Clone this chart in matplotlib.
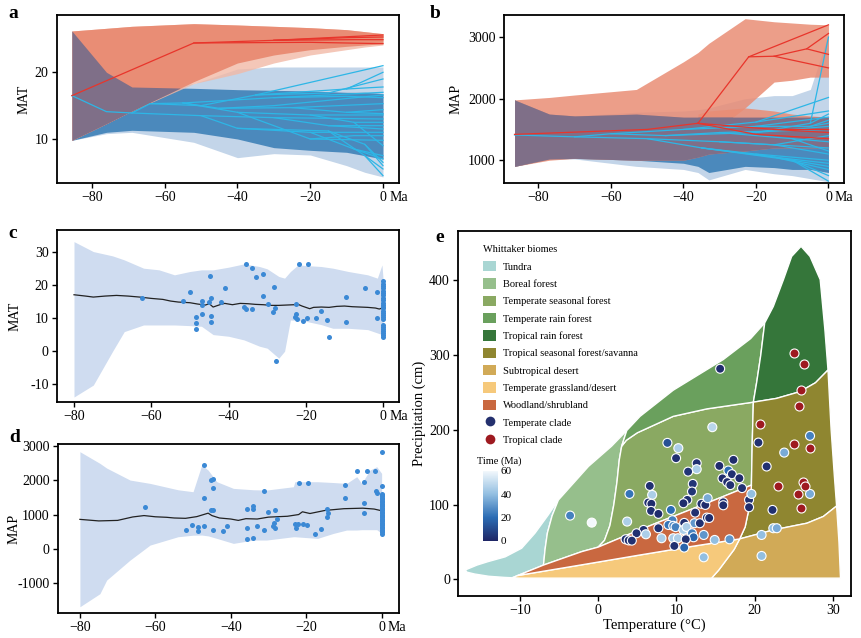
import matplotlib
matplotlib.use('Agg')
import matplotlib.pyplot as plt
import numpy as np
from matplotlib.patches import Polygon, Patch
from matplotlib.lines import Line2D
from matplotlib.colors import LinearSegmentedColormap, Normalize
from matplotlib.cm import ScalarMappable

plt.rcParams['font.family'] = ['Liberation Serif', 'DejaVu Serif']
plt.rcParams['axes.unicode_minus'] = True

# ---------------- panel a : MAT traitgram ----------------
t_a = [-85.5, -76, -69, -52, -40, -30, -20, -10, -5, 0]
a_red_hi = [26.2, 26.6, 26.9, 27.3, 27.1, 26.9, 26.7, 26.4, 26.1, 25.8]
a_red_lo = [9.8, 12.3, 14.2, 18.6, 21.4, 22.6, 23.4, 23.9, 24.1, 24.3]
a_red_lo_light = [9.8, 12.3, 14.2, 18.3, 19.8, 21.4, 22.6, 23.4, 23.8, 24.1]
a_blue_hi = [26.2, 20.0, 17.8, 18.3, 20.5, 20.8, 20.8, 20.8, 20.8, 20.8]
a_blue_lo = [9.8, 10.8, 11.0, 9.5, 7.2, 7.8, 7.6, 6.0, 5.0, 4.3]
a_core_hi = [26.2, 20.0, 17.8, 17.6, 17.4, 17.3, 17.2, 17.0, 17.0, 16.8]
a_core_lo = [9.8, 11.0, 11.3, 11.0, 10.0, 8.7, 8.3, 8.0, 7.5, 7.0]

a_red_paths = [
    [(-85.5, 16.5), (-52, 24.4), (-30, 24.8), (0, 25.6)],
    [(-30, 24.8), (-10, 25.2), (0, 25.3)],
    [(-30, 24.8), (-8, 24.9), (0, 24.9)],
    [(-52, 24.4), (-20, 24.5), (0, 24.3)],
]
a_blue_paths = [
    [(-85.5, 16.5), (-76, 14.1), (-69, 13.9), (-50, 13.5), (-30, 13.2), (0, 13.0)],
    [(-69, 13.9), (-64, 15.3), (-55, 15.4), (-30, 16.2), (0, 17.0)],
    [(-55, 15.4), (-40, 14.0), (-20, 13.6), (0, 13.6)],
    [(-64, 15.3), (-50, 15.0), (-35, 16.6), (0, 21.0)],
    [(-35, 16.6), (-10, 17.5), (0, 20.0)],
    [(-35, 16.6), (-15, 16.9), (0, 19.0)],
    [(-50, 13.5), (-40, 11.6), (-20, 11.0), (0, 11.0)],
    [(-40, 11.6), (-15, 11.2), (-5, 9.2), (0, 6.0)],
    [(-30, 13.2), (-15, 12.0), (0, 12.0)],
    [(-20, 11.0), (-8, 8.5), (0, 7.5)],
    [(-15, 11.2), (-5, 7.5), (0, 4.5)],
    [(-55, 15.4), (-45, 14.6), (-25, 14.7), (0, 15.3)],
    [(-25, 14.7), (-10, 14.0), (0, 14.4)],
    [(-20, 13.6), (-8, 12.5), (0, 12.5)],
    [(-30, 16.2), (-10, 16.4), (0, 16.2)],
    [(-10, 17.5), (0, 17.8)],
    [(-40, 14.0), (-20, 10.0), (0, 9.8)],
    [(-20, 10.0), (-8, 10.5), (0, 10.5)],
    [(-8, 8.5), (0, 7.0)],
    [(-5, 9.2), (0, 6.5)],
    [(-15, 12.0), (0, 11.5)],
    [(-10, 14.0), (0, 13.8)],
    [(-5, 7.5), (0, 5.5)],
    [(-45, 14.6), (-30, 15.0), (0, 16.6)],
    [(-8, 12.5), (0, 9.0)],
]

# ---------------- panel b : MAP traitgram ----------------
t_b = [-86.6, -77, -70, -53, -40, -36, -33, -23, -15, -10, -5, 0]
b_red_hi = [1980, 2020, 2060, 2150, 2600, 2750, 2900, 3300, 3250, 3230, 3210, 3200]
b_red_lo = [900, 1000, 1030, 1000, 1000, 1050, 1400, 1850, 2270, 2300, 2350, 2350]
t_b2 = [-36, -33, -23, -15, -10, -5, 0]
b_red2_hi = [1750, 1800, 1850, 1800, 1750, 1720, 1700]
b_red2_lo = [1050, 1100, 1150, 1200, 1200, 1200, 1200]
b_blue_hi = [1980, 1750, 1720, 1780, 1800, 1820, 1850, 2000, 2050, 2050, 2150, 3050]
b_blue_lo = [900, 1020, 1020, 900, 850, 800, 680, 850, 780, 750, 700, 650]
b_core_hi = [1980, 1750, 1720, 1750, 1700, 1700, 1700, 1700, 1700, 1700, 1700, 1700]
b_core_lo = [900, 1020, 1030, 1000, 950, 900, 800, 900, 880, 850, 850, 800]

b_red_paths = [
    [(-86.6, 1420), (-50, 1500), (-36, 1600), (-22, 2680), (-15, 2690), (-6, 2810), (0, 3060)],
    [(-22, 2680), (0, 3200)],
    [(-15, 2690), (0, 2500)],
    [(-6, 2810), (0, 2720)],
    [(-36, 1600), (-15, 1500), (0, 1500)],
    [(-15, 1500), (0, 1450)],
    [(-36, 1600), (-20, 1420), (0, 1350)],
]
b_blue_paths = [
    [(-86.6, 1410), (-70, 1380), (-50, 1350), (-30, 1300), (0, 1200)],
    [(-70, 1380), (-60, 1430), (-40, 1500), (-20, 1550), (0, 1700)],
    [(-40, 1500), (-20, 1620), (0, 2020)],
    [(-20, 1620), (0, 1800)],
    [(-60, 1430), (-45, 1400), (-30, 1450), (0, 1500)],
    [(-50, 1350), (-35, 1200), (-20, 1100), (0, 1000)],
    [(-35, 1200), (-10, 1000), (0, 750)],
    [(-20, 1100), (0, 900)],
    [(-30, 1300), (-15, 1250), (0, 1400)],
    [(-15, 1250), (0, 1100)],
    [(-45, 1400), (-20, 1450), (-5, 1600), (0, 3000)],
    [(-5, 1600), (0, 1750)],
    [(-10, 1000), (0, 660)],
    [(-20, 1550), (-5, 1550), (0, 1650)],
    [(-30, 1450), (-10, 1350), (0, 1300)],
    [(-10, 1350), (0, 1150)],
    [(-35, 1200), (-15, 1050), (0, 850)],
    [(-15, 1050), (0, 950)],
    [(-20, 1450), (0, 1550)],
    [(-5, 1550), (0, 1600)],
]

# ---------------- panel c : MAT through time ----------------
c_mean_t = [-80, -77, -75, -72, -69, -66, -63, -60, -57, -55, -53, -50, -48, -46, -45, -44, -42, -41, -39, -37,
            -35, -33, -31, -29, -27, -25, -23, -22, -21, -19, -18, -16, -14, -12, -10, -8, -6, -4, -2, -1, 0]
c_mean = [17.0, 16.6, 16.3, 16.6, 16.8, 16.6, 16.3, 15.9, 15.6, 15.1, 14.8, 14.6, 14.2, 13.9, 14.3, 13.3, 14.1,
          14.4, 14.0, 14.4, 14.3, 14.1, 14.0, 13.8, 13.8, 13.9, 14.0, 14.1, 13.6, 12.8, 13.2, 13.3, 13.2, 13.5,
          13.6, 13.4, 13.3, 13.2, 13.0, 12.7, 13.1]
c_band_t = [-80, -75, -70, -67, -62, -58, -54, -50, -47, -44, -40, -36, -32, -30, -27, -25.5, -24, -22, -20, -16,
            -13, -9, -4, -1.5, -0.3, 0]
c_hi = [33, 30, 28.7, 27.5, 25, 24.5, 23, 24, 24.5, 24.5, 25.3, 26.3, 25.5, 24.8, 22.5, 22.0, 24, 26, 25.8, 25.5,
        25, 24, 23, 22, 26, 21.5]
c_lo = [-13.8, -10.2, 0, 5.9, 7.9, 7.9, 7.9, 7.7, 7.5, 5.0, 4.5, 3.4, 1.5, 0.9, -2.1, 0, 9.4, 9.2, 9.0, 8.0,
        6.9, 6.9, 6.5, 5.5, 5.0, 4.9]
c_pts_t = [-62.5, -51.9, -50.0, -48.5, -48.5, -48.5, -46.9, -46.8, -46.8, -45.0, -44.8, -44.6, -44.5, -44.5,
           -42.0, -40.8, -36.0, -35.6, -35.5, -34.0, -34.0, -32.8, -31.0, -31.0, -29.7, -28.6, -28.2, -27.9,
           -27.6, -22.9, -22.5, -22.5, -22.2, -21.7, -19.5, -20.7, -19.6, -17.5, -16.0, -14.4, -14.0, -9.5,
           -9.5, -4.7, -1.7, -1.5]
c_pts_v = [15.9, 15.1, 17.9, 10.4, 8.4, 6.7, 11.1, 15.1, 13.9, 14.7, 22.7, 16.1, 10.6, 8.9, 14.7, 18.9, 13.4,
           12.6, 26.3, 25.2, 12.6, 22.2, 23.2, 16.6, 14.2, 11.9, 19.2, 12.9, -2.9, 10.4, 11.1, 14.2, 9.7, 26.3,
           26.3, 9.2, 9.9, 9.9, 12.1, 9.4, 4.4, 16.4, 8.9, 18.9, 17.9, 9.9]
c_tip_v = [21.0, 20.3, 19.6, 18.9, 18.1, 17.5, 16.8, 16.0, 15.4, 14.6, 14.0, 13.4, 12.9, 12.2, 11.6, 11.0,
           10.3, 9.8, 7.9, 7.4, 6.7, 6.2, 5.5, 4.9, 4.4]

# ---------------- panel d : MAP through time ----------------
d_mean_t = [-80, -75, -70, -66, -63, -60, -57, -55, -52, -49, -46, -45, -43, -40, -38, -36, -33, -30, -25, -22,
            -21, -19, -15, -10, -5, -2, 0]
d_mean = [860, 815, 830, 930, 970, 935, 920, 900, 890, 940, 1040, 970, 900, 870, 830, 880, 870, 925, 950, 1000,
          1080, 1030, 1120, 1170, 1185, 1160, 1110]
d_band_t = [-80, -74.7, -72.9, -66.7, -61.4, -54, -50, -47.7, -46, -43.7, -39.3, -34, -30.5, -23.4, -23, -17,
            -12.8, -9.3, -6.6, -5.3, -3.1, -1.3, 0]
d_hi = [2826, 2487, 2350, 2002, 1905, 1720, 1663, 2440, 2290, 1954, 1760, 1720, 1712, 1808, 1954, 1954, 1930,
        1905, 2100, 1905, 2293, 2390, 2196]
d_lo = [-1679, -1300, -904, -323, 113, 355, 400, 404, 380, 307, 162, 259, 259, 355, 355, 307, 452, 549, 550,
        560, 560, 560, 452]
d_pts_t = [-62.8, -52.0, -50.2, -48.7, -48.7, -47.0, -47.0, -47.0, -45.3, -44.6, -44.8, -45.3, -44.6, -44.6,
           -42.0, -41.0, -35.8, -35.6, -35.6, -34.0, -34.0, -34.0, -33.0, -31.2, -31.2, -30.0, -28.7, -28.5,
           -28.2, -28.2, -27.8, -23.0, -22.8, -22.3, -21.9, -20.8, -19.7, -19.6, -17.7, -16.1, -14.4, -14.4,
           -14.3, -9.6, -9.6, -6.6, -4.7, -4.7, -4.7, -3.8, -1.8, -1.6, -1.3]
d_pts_v = [1208, 549, 694, 646, 520, 2438, 1489, 665, 2002, 2031, 1760, 1130, 1130, 549, 530, 665, 288, 598,
           1150, 1247, 1170, 307, 675, 1692, 549, 1082, 665, 762, 1140, 598, 859, 724, 598, 724, 1925, 724, 694,
           1925, 433, 568, 1150, 937, 1034, 1847, 1469, 2274, 1944, 1344, 1053, 2274, 2274, 1692, 1634]
d_tip_v = [2830, 1820, 1600, 1565, 1525, 1480, 1445, 1400, 1365, 1320, 1280, 1245, 1200, 1160, 1125, 1080,
           1040, 1000, 965, 920, 880, 845, 800, 760, 720, 685, 640, 600, 560, 520, 480, 445]

# ---------------- panel e : Whittaker biomes ----------------
biome_names = ['Tundra', 'Boreal forest', 'Temperate seasonal forest', 'Temperate rain forest',
               'Tropical rain forest', 'Tropical seasonal forest/savanna', 'Subtropical desert',
               'Temperate grassland/desert', 'Woodland/shrubland']
biome_colors = ['#a9d6d3', '#96bf8c', '#8aa962', '#6aa05d', '#35763a', '#8f8630', '#d1aa57', '#f6c97b',
                '#c96840']
tundra = [(-17.0, 12.5), (-15.5, 19), (-14.1, 23.6), (-11.9, 30), (-9.8, 41.5), (-8.1, 61.6), (-6.4, 86),
          (-5.1, 106), (-5.9, 85), (-6.5, 62), (-6.8, 40), (-7.0, 19), (-10.3, 5), (-11.0, 2.0), (-12, 2.5),
          (-14, 4), (-15.8, 7), (-16.8, 9.5)]
boreal = [(-7.0, 19), (-6.8, 40), (-6.5, 62), (-5.9, 85), (-5.1, 106), (-1.25, 151), (1.7, 178), (3.65, 199),
          (3.0, 178), (2.7, 160), (2.4, 130), (2.0, 100), (1.5, 72), (0.8, 52), (0, 43), (-2.1, 37)]
temp_seasonal = [(3.0, 178), (3.6, 186), (5.0, 196), (7.3, 207), (9.6, 218), (13.9, 228), (19.85, 237),
                 (19.7, 180), (19.6, 126), (17, 115), (13.45, 100), (7.4, 75), (3.2, 57), (0, 43), (0.8, 52),
                 (1.5, 72), (2.0, 100), (2.4, 130), (2.7, 160)]
temp_rain = [(3.0, 178), (3.65, 199), (5.35, 218), (9.6, 253), (16.0, 294), (19.5, 322), (21.3, 343),
             (20.8, 300), (20.3, 265), (19.85, 237), (13.9, 228), (9.6, 218), (7.3, 207), (5.0, 196), (3.6, 186)]
trop_rain = [(19.85, 237), (20.3, 265), (20.8, 300), (21.3, 343), (22.4, 365), (23.7, 401), (24.75, 432),
             (25.95, 445.5), (27.1, 432), (28.4, 401), (29.0, 334), (29.4, 280), (27.8, 263), (25.8, 251),
             (22.8, 242)]
savanna = [(18.1, 54), (18.8, 70), (19.2, 90), (19.5, 110), (19.6, 126), (19.7, 180), (19.85, 237), (22.8, 242),
           (25.8, 251), (27.8, 263), (29.4, 280), (29.8, 200), (30.2, 140), (30.5, 98), (28.8, 84), (26.7, 75),
           (22.4, 66)]
subtrop_desert = [(14.5, 1.5), (15.4, 12), (16.4, 26), (17.4, 40), (18.1, 54), (22.4, 66), (26.7, 75),
                  (28.8, 84), (30.5, 98), (30.8, 50), (31.0, 1.5)]
grassland = [(-11.0, 2.0), (-10.3, 5), (-2, 19.5), (5.35, 32.5), (12, 44), (18.1, 54), (17.4, 40), (16.4, 26),
             (15.4, 12), (14.5, 1.5), (-10, 1.5)]
woodland = [(-10.3, 5), (-7.0, 19), (-2.1, 37), (0, 43), (3.2, 57), (7.4, 75), (13.45, 100), (17, 115),
            (19.6, 126), (19.5, 110), (19.2, 90), (18.8, 70), (18.1, 54), (12, 44), (5.35, 32.5), (-2, 19.5)]
biome_polys = [tundra, boreal, temp_seasonal, temp_rain, trop_rain, savanna, subtrop_desert, grassland, woodland]

temp_T = [15.6, 14.6, 8.85, 10.25, 9.96, 12.6, 12.6, 11.5, 15.5, 17.3, 16.65, 15.9, 17.1, 16.5, 16.9, 18.06,
          18.4, 12.1, 6.6, 6.9, 4.0, 6.4, 6.8, 6.76, 7.7, -3.6, -0.83, 3.7, 9.3, 12.0, 11.4, 10.9, 13.2, 13.7,
          14.0, 16.0, 16.0, 19.3, 19.3, 19.6, 12.4, 12.3, 13.0, 13.9, 14.2, 11.0, 9.5, 8.98, 9.6, 9.9, 7.7, 5.8,
          4.9, 6.1, 3.5, 3.9, 4.3, 8.1, 9.6, 10.2, 10.9, 11.3, 12.0, 12.2, 11.2, 9.74, 11.0, 13.5, 14.9, 16.8,
          13.5, 20.9, 20.9, 22.4, 22.85, 22.3, 21.55, 20.5, 23.8, 27.1, 27.1]
temp_P = [281.7, 203.5, 182.5, 175.4, 162.0, 155.3, 147.3, 144.0, 151.7, 159.8, 145.5, 135.0, 140.6, 130.0,
          126.0, 135.2, 122.0, 127.6, 124.9, 112.9, 114.2, 102.6, 101.0, 91.5, 87.5, 85.2, 75.8, 77.2, 92.8,
          117.4, 106.2, 101.7, 101.0, 99.5, 108.5, 103.0, 99.0, 106.2, 96.4, 114.2, 89.2, 75.0, 75.0, 82.5,
          82.0, 75.4, 79.0, 72.7, 71.5, 69.8, 68.3, 66.0, 61.6, 60.2, 53.5, 52.0, 51.7, 54.9, 54.9, 54.9, 66.0,
          70.0, 61.6, 56.2, 53.5, 44.6, 42.4, 59.3, 52.6, 53.5, 29.4, 59.3, 31.2, 68.3, 68.3, 92.8, 150.9,
          182.9, 169.5, 191.9, 114.2]
temp_age = [2, 48, 12, 45, 3, 3, 45, 4, 2, 2, 20, 2, 3, 2, 3, 2, 3, 4, 3, 45, 22, 3, 2, 3, 2, 25, 60, 45, 20,
            4, 3, 2, 3, 2, 35, 3, 2, 3, 2, 40, 3, 30, 3, 3, 2, 3, 25, 22, 28, 25, 3, 3, 3, 45, 3, 2, 3, 45, 45,
            45, 45, 45, 25, 18, 3, 3, 18, 30, 40, 30, 40, 40, 40, 40, 35, 3, 3, 3, 35, 25, 35]
trop_T = [25.1, 26.3, 26.0, 25.65, 20.7, 25.0, 27.1, 23.05, 26.2, 26.5, 25.6, 26.0]
trop_P = [302.6, 287.9, 252.6, 231.2, 208.0, 180.8, 175.4, 125.0, 130.0, 125.4, 114.2, 95.0]

RED_LINE = '#e8352b'
BLUE_LINE = '#2db6e6'
TICK_FS = 10
LABEL_FS = 10

fig = plt.figure(figsize=(8.61, 6.38), dpi=100)
ax_a = fig.add_axes([0.0662, 0.7132, 0.3972, 0.2633])
ax_b = fig.add_axes([0.5854, 0.7132, 0.3949, 0.2633])
ax_c = fig.add_axes([0.0662, 0.3699, 0.3972, 0.2696])
ax_d = fig.add_axes([0.0674, 0.0392, 0.3960, 0.2649])
ax_e = fig.add_axes([0.5323, 0.0663, 0.4557, 0.5716])


def style(ax):
    for s in ax.spines.values():
        s.set_linewidth(1.3)
    ax.tick_params(direction='out', length=3.5, width=1, labelsize=TICK_FS, pad=2.5)


def ma_axis(ax):
    ax.set_xticks([-80, -60, -40, -20, 0])
    ax.set_xticklabels(['\u221280', '\u221260', '\u221240', '\u221220', '0'])
    ax.annotate('Ma', xy=(0, 0), xycoords=('data', 'axes fraction'), xytext=(4.5, -6),
                textcoords='offset points', ha='left', va='top', fontsize=TICK_FS)


def overlap(ax, t, lo1, hi1, lo2, hi2):
    lo = np.maximum(lo1, lo2)
    hi = np.minimum(hi1, hi2)
    ax.fill_between(t, lo, hi, where=hi > lo, interpolate=True, color='#7f6f88', lw=0)


# a
ax = ax_a
ax.fill_between(t_a, a_blue_lo, a_blue_hi, color='#c3d5e9', lw=0)
ax.fill_between(t_a, a_core_lo, a_core_hi, color='#4b89bc', lw=0)
ax.fill_between(t_a, a_red_lo_light, a_red_hi, color='#f2b9a6', alpha=0.8, lw=0)
ax.fill_between(t_a, a_red_lo, a_red_hi, color='#e98d75', lw=0)
overlap(ax, t_a, a_red_lo, a_red_hi, a_core_lo, a_core_hi)
for p in a_blue_paths:
    ax.plot(*zip(*p), color=BLUE_LINE, lw=0.9)
for p in a_red_paths:
    ax.plot(*zip(*p), color=RED_LINE, lw=0.9)
ax.set_xlim(-89.6, 4.4)
ax.set_ylim(3.4, 28.6)
ax.set_yticks([10, 20])
ax.set_ylabel('MAT', fontsize=LABEL_FS, labelpad=3)
style(ax)
ma_axis(ax)

# b
ax = ax_b
ax.fill_between(t_b, b_blue_lo, b_blue_hi, color='#c3d5e9', lw=0)
ax.fill_between(t_b, b_core_lo, b_core_hi, color='#4b89bc', lw=0)
ax.fill_between(t_b, b_red_lo, b_red_hi, color='#e98d75', alpha=0.85, lw=0)
ax.fill_between(t_b2, b_red2_lo, b_red2_hi, color='#e98d75', alpha=0.85, lw=0)
overlap(ax, t_b, b_red_lo, b_red_hi, b_core_lo, b_core_hi)
ov_core_lo = np.interp(t_b2, t_b, b_core_lo)
ov_core_hi = np.interp(t_b2, t_b, b_core_hi)
overlap(ax, t_b2, b_red2_lo, b_red2_hi, ov_core_lo, ov_core_hi)
for p in b_blue_paths:
    ax.plot(*zip(*p), color=BLUE_LINE, lw=0.9)
for p in b_red_paths:
    ax.plot(*zip(*p), color=RED_LINE, lw=0.9)
ax.set_xlim(-89.5, 4.3)
ax.set_ylim(630, 3360)
ax.set_yticks([1000, 2000, 3000])
ax.set_ylabel('MAP', fontsize=LABEL_FS, labelpad=4)
style(ax)
ma_axis(ax)

# c
ax = ax_c
ax.fill_between(c_band_t, c_lo, c_hi, color='#cfdcf0', lw=0)
ax.plot(c_mean_t, c_mean, color='#222222', lw=0.9)
ax.scatter(c_pts_t, c_pts_v, s=13, color='#3b89d5', lw=0, zorder=3)
ax.scatter(np.zeros(len(c_tip_v)), c_tip_v, s=13, color='#3b89d5', lw=0, zorder=3)
ax.set_xlim(-84.4, 4.1)
ax.set_ylim(-15.3, 36.5)
ax.set_yticks([-10, 0, 10, 20, 30])
ax.set_yticklabels(['-10', '0', '10', '20', '30'])
ax.set_ylabel('MAT', fontsize=LABEL_FS, labelpad=6)
style(ax)
ma_axis(ax)

# d
ax = ax_d
ax.fill_between(d_band_t, d_lo, d_hi, color='#cfdcf0', lw=0)
ax.plot(d_mean_t, d_mean, color='#222222', lw=0.9)
ax.scatter(d_pts_t, d_pts_v, s=13, color='#3b89d5', lw=0, zorder=3)
ax.scatter(np.zeros(len(d_tip_v)), d_tip_v, s=13, color='#3b89d5', lw=0, zorder=3)
ax.set_xlim(-85.8, 4.6)
ax.set_ylim(-1860, 3050)
ax.set_yticks([-1000, 0, 1000, 2000, 3000])
ax.set_yticklabels(['-1000', '0', '1000', '2000', '3000'])
ax.set_ylabel('MAP', fontsize=LABEL_FS, labelpad=-2)
style(ax)
ma_axis(ax)

# e
ax = ax_e
for poly, col in zip(biome_polys, biome_colors):
    ax.add_patch(Polygon(poly, closed=True, facecolor=col, edgecolor='white', lw=1.0, joinstyle='round'))
age_cmap = LinearSegmentedColormap.from_list('age', ['#1f2766', '#2b6cb4', '#93bfe1', '#f3f8fc'])
ax.scatter(temp_T, temp_P, c=temp_age, cmap=age_cmap, vmin=0, vmax=60, s=42,
           edgecolors='white', linewidths=0.8, zorder=3)
ax.scatter(trop_T, trop_P, color='#9e1a20', s=42, edgecolors='white', linewidths=0.8, zorder=3)
ax.set_xlim(-17.9, 32.3)
ax.set_ylim(-22, 466)
ax.set_xticks([-10, 0, 10, 20, 30])
ax.set_yticks([0, 100, 200, 300, 400])
ax.set_xlabel('Temperature (\u00b0C)', fontsize=LABEL_FS + 0.5, labelpad=1)
ax.set_ylabel('Precipitation (cm)', fontsize=LABEL_FS + 0.5, labelpad=2)
style(ax)

handles = [Patch(facecolor=c, edgecolor='none', label=n) for n, c in zip(biome_names, biome_colors)]
handles += [Line2D([0], [0], marker='o', ls='none', mfc='#24306e', mec='none', ms=7, label='Temperate clade'),
            Line2D([0], [0], marker='o', ls='none', mfc='#9e1a20', mec='none', ms=7, label='Tropical clade')]
ax.legend(handles=handles, title='Whittaker biomes', loc='upper left', bbox_to_anchor=(0.064, 0.961),
          frameon=False, fontsize=7.5, title_fontsize=7.5, handlelength=1.22, handleheight=1.18,
          handletextpad=0.64, labelspacing=0.63, borderaxespad=0, borderpad=0, alignment='left')

cax = fig.add_axes([483 / 861, 1 - 540.7 / 638, 15 / 861, 70 / 638])
cb = fig.colorbar(ScalarMappable(norm=Normalize(0, 60), cmap=age_cmap), cax=cax, ticks=[0, 20, 40, 60])
cb.outline.set_visible(False)
cb.ax.tick_params(length=0, labelsize=8, pad=2)
fig.text(499 / 861, 1 - 461 / 638, 'Time (Ma)', fontsize=7.5, ha='center', va='center')

for lab, x, y in [('a', 13, 14), ('b', 435, 13), ('c', 13, 233), ('d', 15, 437), ('e', 440, 237)]:
    fig.text(x / 861, 1 - y / 638, lab, fontsize=14, fontweight='bold', ha='center', va='center')

fig.savefig('out.png', dpi=100)
